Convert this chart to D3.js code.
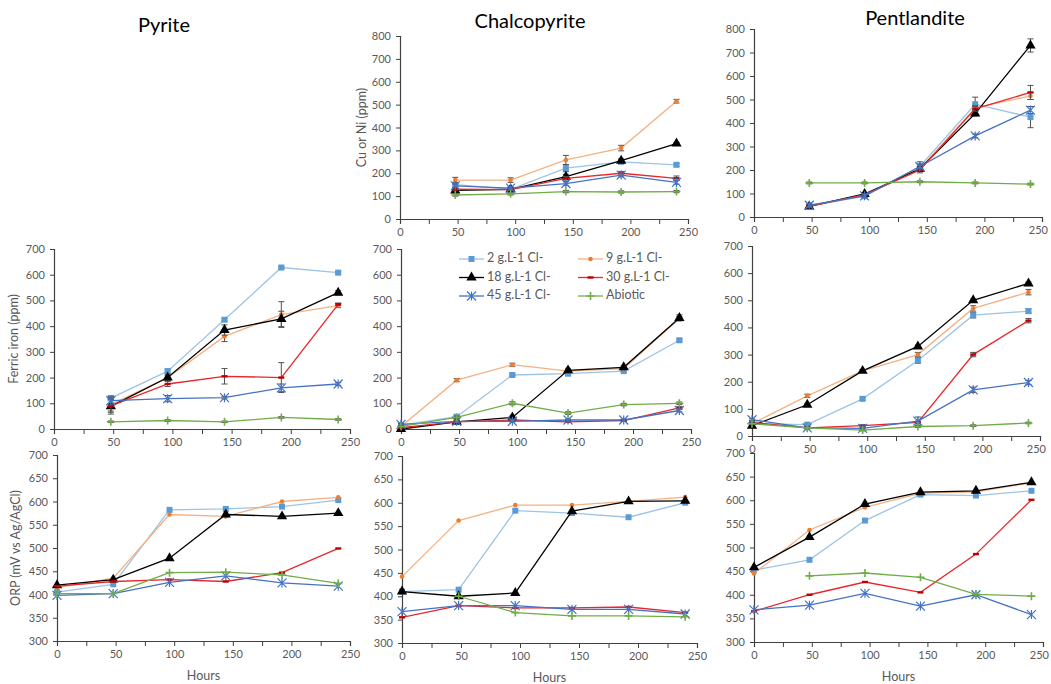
<!DOCTYPE html>
<html>
<head>
<meta charset="utf-8">
<script src="https://cdn.jsdelivr.net/npm/d3@7"></script>
<style>
  body { margin: 0; background: #fff; }
</style>
</head>
<body>
<div id="chart"></div>
<script>
// sampling times (hours) and series
const hours = [0, 48, 96, 144, 192, 240];
const seriesNames = ["2 g.L-1 Cl-", "9 g.L-1 Cl-", "18 g.L-1 Cl-", "30 g.L-1 Cl-", "45 g.L-1 Cl-", "Abiotic"];
const lineColors = ["#9dc3e6", "#f4b183", "#000000", "#e8262b", "#4472c4", "#70ad47"];
const markColors = ["#5b9bd5", "#ed7d31", "#000000", "#c00000", "#4472c4", "#70ad47"];
const markTypes = ["square", "dot", "triangle", "dash", "star", "plus"];

const xTicks = [0, 50, 100, 150, 200, 250];
const metalTicks = [0, 100, 200, 300, 400, 500, 600, 700, 800];
const ferricTicks = [0, 100, 200, 300, 400, 500, 600, 700];
const orpTicks = [300, 350, 400, 450, 500, 550, 600, 650, 700];

// Cu (chalcopyrite) and Ni (pentlandite) in solution, ppm
const chalcoMetal = [
  [null, 150, 130, 222, 250, 237],
  [null, 170, 170, 258, 310, 515],
  [null, 125, 130, 185, 255, 330],
  [null, 130, 128, 178, 200, 178],
  [null, 145, 135, 155, 192, 160],
  [null, 105, 110, 120, 118, 120]
];
const chalcoMetalErr = [
  [0, 8, 5, 15, 8, 6],
  [0, 12, 10, 20, 12, 8],
  [0, 6, 5, 10, 8, 5],
  [0, 6, 5, 8, 8, 10],
  [0, 8, 5, 8, 8, 8],
  [0, 5, 5, 5, 5, 5]
];
const pentMetal = [
  [null, 48, 88, 215, 480, 425],
  [null, 45, 92, 205, 465, 515],
  [null, 45, 98, 205, 440, 730],
  [null, 45, 95, 200, 460, 530],
  [null, 50, 90, 215, 345, 455],
  [null, 145, 145, 150, 145, 140]
];
const pentMetalErr = [
  [0, 5, 5, 20, 30, 45],
  [0, 5, 5, 10, 10, 15],
  [0, 5, 5, 10, 10, 28],
  [0, 5, 5, 12, 10, 30],
  [0, 5, 5, 10, 8, 15],
  [0, 4, 4, 4, 4, 4]
];

// ferric iron, ppm
const pyriteFerric = [
  [null, 120, 225, 425, 628, 608],
  [null, 95, 200, 360, 445, 480],
  [null, 88, 200, 385, 428, 530],
  [null, 90, 175, 205, 200, 485],
  [null, 110, 118, 122, 160, 175],
  [null, 28, 33, 28, 45, 37]
];
const pyriteFerricErr = [
  [0, 10, 8, 5, 5, 5],
  [0, 25, 10, 20, 50, 8],
  [0, 30, 10, 20, 30, 8],
  [0, 25, 10, 30, 58, 5],
  [0, 15, 12, 5, 15, 5],
  [0, 3, 3, 3, 3, 3]
];
const chalcoFerric = [
  [15, 48, 210, 215, 225, 345],
  [10, 190, 250, 225, 235, 430],
  [0, 28, 45, 228, 240, 432],
  [5, 28, 35, 28, 33, 82],
  [18, 30, 30, 35, 35, 72],
  [10, 45, 100, 62, 95, 100]
];
const chalcoFerricErr = [
  [3, 5, 4, 4, 4, 5],
  [3, 6, 6, 4, 4, 8],
  [3, 4, 6, 8, 6, 12],
  [3, 3, 3, 3, 3, 5],
  [3, 3, 3, 3, 3, 5],
  [3, 5, 6, 5, 5, 5]
];
const pentFerric = [
  [45, 42, 137, 278, 445, 460],
  [45, 148, 240, 300, 470, 530],
  [38, 115, 240, 330, 500, 562],
  [50, 30, 38, 50, 300, 425],
  [60, 30, 28, 55, 170, 197],
  [45, 30, 22, 35, 38, 48]
];
const pentFerricErr = [
  [3, 5, 5, 10, 10, 8],
  [3, 6, 5, 8, 10, 10],
  [3, 5, 5, 5, 5, 5],
  [3, 3, 3, 5, 8, 8],
  [3, 3, 3, 15, 10, 8],
  [3, 3, 3, 3, 3, 3]
];

// ORP, mV vs Ag/AgCl
const pyriteOrp = [
  [405, 422, 582, 584, 589, 603],
  [415, 435, 572, 568, 600, 609],
  [420, 432, 478, 572, 568, 575],
  [418, 428, 432, 428, 447, 499],
  [398, 402, 426, 440, 425, 418],
  [402, 402, 447, 448, 442, 424]
];
const chalcoOrp = [
  [410, 414, 583, 578, 569, 600],
  [442, 562, 595, 595, 603, 612],
  [410, 400, 407, 582, 603, 604],
  [355, 380, 375, 375, 377, 365],
  [367, 380, 380, 372, 372, 362],
  [null, 400, 365, 358, 358, 356]
];
const pentOrp = [
  [452, 474, 557, 612, 610, 620],
  [445, 537, 585, 615, 618, 637],
  [458, 522, 592, 617, 620, 638],
  [365, 400, 427, 405, 486, 601],
  [368, 378, 403, 376, 400, 358],
  [null, 440, 446, 437, 401, 397]
];

const width = 1051;
const height = 684;
const font = "Lato, 'Open Sans', sans-serif";
const axisColor = "#404040";
const textColor = "#595959";

const svg = d3.select("#chart")
  .append("svg")
  .attr("width", width)
  .attr("height", height)
  .style("font-family", font);

function drawMarker(g, type, color, cx, cy) {
  if (type === "square") {
    g.append("rect").attr("x", cx - 3).attr("y", cy - 3).attr("width", 6).attr("height", 6).attr("fill", color);
  } else if (type === "dot") {
    g.append("circle").attr("cx", cx).attr("cy", cy).attr("r", 2.3).attr("fill", color);
  } else if (type === "triangle") {
    g.append("path").attr("d", d3.symbol(d3.symbolTriangle, 46)()).attr("transform", `translate(${cx},${cy})`).attr("fill", color);
  } else if (type === "dash") {
    g.append("rect").attr("x", cx - 3).attr("y", cy - 1.2).attr("width", 6).attr("height", 2.4).attr("fill", color);
  } else if (type === "star") {
    const r = 4.5;
    g.append("path")
      .attr("d", `M${cx - r},${cy - r}L${cx + r},${cy + r}M${cx - r},${cy + r}L${cx + r},${cy - r}M${cx},${cy - r}L${cx},${cy + r}`)
      .attr("stroke", color).attr("stroke-width", 1.2).attr("fill", "none");
  } else if (type === "plus") {
    const r = 4;
    g.append("path")
      .attr("d", `M${cx - r},${cy}L${cx + r},${cy}M${cx},${cy - r}L${cx},${cy + r}`)
      .attr("stroke", color).attr("stroke-width", 1.6).attr("fill", "none");
  }
}

function drawPanel(p) {
  const x = d3.scaleLinear().domain([0, 250]).range([p.left, p.right]);
  const y = d3.scaleLinear().domain([p.ticks[0], p.ticks[p.ticks.length - 1]]).range([p.bottom, p.top]);
  const g = svg.append("g");

  const xAxis = g.append("g")
    .attr("transform", `translate(0,${p.bottom})`)
    .call(d3.axisBottom(x).tickValues(d3.range(0, 251, 25)).tickSize(5).tickPadding(4)
      .tickFormat(d => xTicks.includes(d) ? d : ""));
  const yAxis = g.append("g")
    .attr("transform", `translate(${p.left},0)`)
    .call(d3.axisLeft(y).tickValues(p.ticks).tickSize(4).tickPadding(5));

  [xAxis, yAxis].forEach(a => {
    a.select(".domain").attr("stroke", axisColor).attr("stroke-width", 1.2);
    a.selectAll(".tick line").attr("stroke", axisColor);
    a.selectAll(".tick text").attr("fill", textColor).style("font-size", "11px").style("font-family", font);
  });
  // keep the last x label inside the page on the right-hand panels
  if (p.right > 1030) {
    xAxis.selectAll(".tick text").filter(d => d === 250).attr("text-anchor", "end").attr("dx", "0.5em");
  }

  const line = d3.line()
    .defined(d => d.v != null)
    .x(d => x(d.h))
    .y(d => y(d.v));

  p.data.forEach((vals, i) => {
    const pts = vals.map((v, j) => ({ h: hours[j], v: v, e: p.err ? p.err[i][j] : 0 }));
    const sg = g.append("g");
    sg.append("path")
      .datum(pts)
      .attr("d", line)
      .attr("fill", "none")
      .attr("stroke", lineColors[i])
      .attr("stroke-width", 1.3);
    pts.filter(d => d.v != null && d.e > 0).forEach(d => {
      const px = x(d.h), y1 = y(d.v - d.e), y2 = y(d.v + d.e);
      sg.append("path")
        .attr("d", `M${px},${y1}L${px},${y2}M${px - 3},${y1}L${px + 3},${y1}M${px - 3},${y2}L${px + 3},${y2}`)
        .attr("stroke", "#505050").attr("stroke-width", 1).attr("fill", "none");
    });
    pts.filter(d => d.v != null).forEach(d => drawMarker(sg, markTypes[i], markColors[i], x(d.h), y(d.v)));
  });

  if (p.yLabel) {
    g.append("text")
      .attr("transform", `translate(${p.yLabelX},${(p.top + p.bottom) / 2}) rotate(-90)`)
      .attr("text-anchor", "middle")
      .attr("dominant-baseline", "middle")
      .attr("fill", textColor)
      .style("font-size", "12.5px")
      .text(p.yLabel);
  }
  if (p.xLabel) {
    g.append("text")
      .attr("x", (p.left + p.right) / 2)
      .attr("y", p.bottom + 39)
      .attr("text-anchor", "middle")
      .attr("fill", textColor)
      .style("font-size", "12.5px")
      .text(p.xLabel);
  }
}

const panels = [
  { data: chalcoMetal, err: chalcoMetalErr, ticks: metalTicks, left: 400, right: 688, top: 36, bottom: 219, yLabel: "Cu or Ni (ppm)", yLabelX: 363 },
  { data: pentMetal, err: pentMetalErr, ticks: metalTicks, left: 754, right: 1042, top: 29, bottom: 217 },
  { data: pyriteFerric, err: pyriteFerricErr, ticks: ferricTicks, left: 54, right: 350, top: 249, bottom: 429, yLabel: "Ferric iron (ppm)", yLabelX: 15 },
  { data: chalcoFerric, err: chalcoFerricErr, ticks: ferricTicks, left: 401, right: 691, top: 249, bottom: 429 },
  { data: pentFerric, err: pentFerricErr, ticks: ferricTicks, left: 752, right: 1040, top: 246, bottom: 436 },
  { data: pyriteOrp, ticks: orpTicks, left: 57, right: 350, top: 455, bottom: 641, yLabel: "ORP (mV vs Ag/AgCl)", yLabelX: 17, xLabel: "Hours" },
  { data: chalcoOrp, ticks: orpTicks, left: 402, right: 697, top: 456, bottom: 643, xLabel: "Hours" },
  { data: pentOrp, ticks: orpTicks, left: 754, right: 1043, top: 453, bottom: 642, xLabel: "Hours" }
];
panels.forEach(drawPanel);

// mineral titles
[["Pyrite", 164, 32], ["Chalcopyrite", 530, 28], ["Pentlandite", 915, 25]].forEach(t => {
  svg.append("text")
    .attr("x", t[1]).attr("y", t[2])
    .attr("text-anchor", "middle")
    .attr("fill", "#000")
    .style("font-size", "20px")
    .text(t[0]);
});

// legend inside the chalcopyrite ferric iron panel
const legend = svg.append("g");
seriesNames.forEach((name, i) => {
  const lx = i % 2 === 0 ? 459 : 578;
  const ly = 259 + Math.floor(i / 2) * 18.5;
  legend.append("line")
    .attr("x1", lx).attr("x2", lx + 25).attr("y1", ly).attr("y2", ly)
    .attr("stroke", lineColors[i]).attr("stroke-width", 1.3);
  drawMarker(legend, markTypes[i], markColors[i], lx + 12.5, ly);
  legend.append("text")
    .attr("x", lx + 28).attr("y", ly)
    .attr("dominant-baseline", "middle")
    .attr("fill", textColor)
    .style("font-size", "12.5px")
    .text(name);
});
</script>
</body>
</html>
